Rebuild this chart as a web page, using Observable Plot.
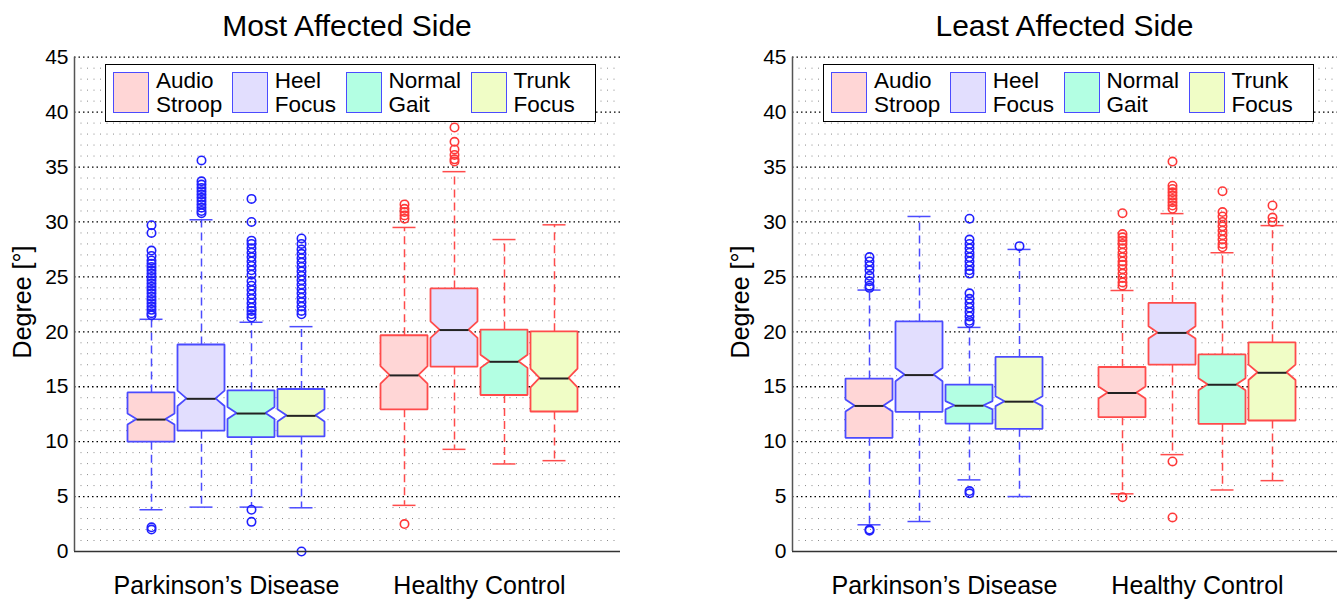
<!DOCTYPE html>
<html><head><meta charset="utf-8">
<script src="https://cdn.jsdelivr.net/npm/d3@7"></script>
<script src="https://cdn.jsdelivr.net/npm/@observablehq/plot@0.6"></script>
<style>
body{margin:0;background:#fff;font-family:"Liberation Sans",Arial,Helvetica,sans-serif;}
#wrap{position:relative;width:1342px;height:601px;overflow:hidden;background:#fff}
.panel{position:absolute;top:0;height:601px}
.panel svg{position:absolute;top:40px;left:0}
.title{position:absolute;top:9px;text-align:center;font-size:30px;color:#000;white-space:nowrap}
.ylab{position:absolute;left:22px;top:302px;transform:translate(-50%,-50%) rotate(-90deg);font-size:25px;white-space:nowrap;color:#000}
.legend{position:absolute;top:64px;height:56px;width:482px;border:1.5px solid #000;background:#fff;display:flex;align-items:flex-start;gap:9.5px;padding:0 0 0 7px;box-sizing:content-box}
.item{display:flex;align-items:flex-start;gap:7px}
.sw{width:34px;height:39px;border:1.5px solid #4b4bff;margin-top:7px}
.lt{font-size:22.5px;line-height:24px;padding-top:4px;color:#000}
</style></head>
<body><div id="wrap"></div>
<script>
// ---------- data ----------
const conditions = ["Audio Stroop", "Heel Focus", "Normal Gait", "Trunk Focus"];
const groups = ["Parkinson’s Disease", "Healthy Control"];
const yTicks = [0, 5, 10, 15, 20, 25, 30, 35, 40, 45];

// order: PD (Audio, Heel, Normal, Trunk), HC (Audio, Heel, Normal, Trunk)
const mostQ1     = [9.95, 10.95, 10.37, 10.43, 12.9, 16.79, 14.2, 12.7];
const mostMedian = [12.01, 13.9, 12.56, 12.35, 16.03, 20.16, 17.27, 15.75];
const mostQ3     = [14.44, 18.8, 14.63, 14.75, 19.64, 23.9, 20.16, 20.0];
const mostLow    = [3.8, 4.04, 4.04, 3.98, 4.2, 9.3, 7.97, 8.27];
const mostHigh   = [21.14, 30.2, 20.87, 20.47, 29.5, 34.58, 28.4, 29.74];
const mostNotch  = [0.5, 0.7, 0.55, 0.55, 0.8, 0.75, 0.6, 0.85];
const mostOutliers = [
  [29.7, 29.0, 27.4, 26.9, 26.5, 26.2, 25.9, 25.6, 25.3, 25.0, 24.7, 24.4, 24.1, 23.8, 23.5, 23.2, 22.9, 22.6, 22.3, 22.0, 21.7, 21.5, 2.2, 2.0],
  [35.6, 33.7, 33.4, 33.1, 32.8, 32.5, 32.2, 31.9, 31.6, 31.3, 31.0, 30.8],
  [32.1, 30.0, 28.3, 28.0, 27.6, 27.2, 26.8, 26.4, 26.0, 25.6, 25.2, 24.6, 24.2, 23.8, 23.4, 23.0, 22.6, 22.2, 21.9, 21.6, 21.3, 3.8, 2.7],
  [28.5, 28.0, 27.5, 27.1, 26.7, 26.3, 25.9, 25.5, 25.1, 24.7, 24.3, 23.9, 23.5, 23.1, 22.7, 22.3, 21.9, 21.6, 0.0],
  [31.6, 31.2, 30.9, 30.6, 30.3, 2.5],
  [38.6, 37.3, 36.6, 36.1, 35.7, 35.5],
  [],
  []
];

const leastQ1     = [10.3, 12.67, 11.6, 11.12, 12.18, 16.97, 11.58, 11.88];
const leastMedian = [13.25, 16.06, 13.27, 13.64, 14.43, 19.9, 15.18, 16.27];
const leastQ3     = [15.7, 20.9, 15.15, 17.67, 16.75, 22.58, 17.9, 19.0];
const leastLow    = [2.43, 2.73, 6.52, 5.0, 5.25, 8.82, 5.6, 6.45];
const leastHigh   = [23.8, 30.5, 20.4, 27.5, 23.76, 30.76, 27.2, 29.67];
const leastNotch  = [0.55, 0.6, 0.38, 0.45, 0.55, 0.55, 0.55, 0.7];
const leastOutliers = [
  [26.8, 26.4, 26.0, 25.6, 25.1, 24.6, 24.2, 24.0, 2.0, 1.9],
  [],
  [30.3, 28.4, 28.0, 27.6, 27.2, 26.8, 26.4, 26.0, 25.6, 25.3, 23.5, 23.0, 22.6, 22.2, 21.8, 21.4, 21.0, 20.8, 5.5, 5.3],
  [27.8],
  [30.8, 28.9, 28.6, 28.3, 28.0, 27.6, 27.2, 26.8, 26.4, 26.1, 25.7, 25.3, 24.9, 24.5, 24.2, 4.95],
  [35.5, 33.3, 33.0, 32.7, 32.4, 32.1, 31.8, 31.5, 31.2, 8.2, 3.1],
  [32.8, 30.9, 30.5, 30.0, 29.6, 29.2, 28.8, 28.4, 28.0, 27.7],
  [31.5, 30.4, 30.0]
];

// ---------- styles ----------
const condFill = ["#ffd6d6", "#e2defe", "#b3ffe3", "#f0fdc6"];
const groupStroke = ["#4b4bff", "#ff4b4b"];
const groupDot = ["#1f1fff", "#ff3838"];
const groupGap = 5.06;   // position offset of the second group
const halfW = 0.47, inset = 0.18, capHalf = 0.23;
const font = '"Liberation Sans", Arial, Helvetica, sans-serif';

function makePanel(cfg) {
  const boxes = [];
  groups.forEach((g, gi) => conditions.forEach((c, ci) => {
    const i = gi * conditions.length + ci;
    boxes.push({gi, ci, x: 1 + ci + gi * groupGap,
      q1: cfg.q1[i], med: cfg.med[i], q3: cfg.q3[i], lo: cfg.lo[i], hi: cfg.hi[i], n: cfg.notch[i],
      fill: condFill[ci], stroke: groupStroke[gi], dot: groupDot[gi]});
  }));
  const outline = boxes.flatMap((b, k) => [
    {k, y: b.q1, w: halfW}, {k, y: b.med - b.n, w: halfW}, {k, y: b.med, w: halfW - inset},
    {k, y: b.med + b.n, w: halfW}, {k, y: b.q3, w: halfW}
  ].map(p => ({...p, x1: b.x - p.w, x2: b.x + p.w, fill: b.fill, stroke: b.stroke})));
  const outs = boxes.flatMap((b, k) => cfg.out[k].map(v => ({x: b.x, y: v, stroke: b.dot})));
  const centers = groups.map((g, gi) => d3.mean(boxes.filter(b => b.gi === gi), b => b.x));

  const plot = Plot.plot({
    width: cfg.width, height: 561,
    marginTop: 16.7, marginBottom: 50, marginLeft: 74, marginRight: cfg.mr,
    x: {domain: cfg.xdom, axis: null},
    y: {domain: [0, 45], axis: null},
    color: {type: "identity"},
    style: {fontFamily: font, background: "transparent", color: "#000", overflow: "visible"},
    marks: [
      Plot.ruleY(d3.range(1, 45).filter(d => d % 5 !== 0), {stroke: "#8a8a8a", strokeWidth: 1, strokeDasharray: "1,5.5"}),
      Plot.ruleY(yTicks.filter(d => d > 0), {stroke: "#000", strokeWidth: 1.3, strokeDasharray: "1.5,3"}),
      Plot.ruleX(boxes, {x: "x", y1: "q3", y2: "hi", stroke: "stroke", strokeWidth: 1.5, strokeDasharray: "8,5"}),
      Plot.ruleX(boxes, {x: "x", y1: "q1", y2: "lo", stroke: "stroke", strokeWidth: 1.5, strokeDasharray: "8,5"}),
      Plot.ruleY(boxes, {y: "hi", x1: d => d.x - capHalf, x2: d => d.x + capHalf, stroke: "stroke", strokeWidth: 1.5}),
      Plot.ruleY(boxes, {y: "lo", x1: d => d.x - capHalf, x2: d => d.x + capHalf, stroke: "stroke", strokeWidth: 1.5}),
      Plot.areaX(outline, {z: "k", y: "y", x1: "x1", x2: "x2", fill: "fill", stroke: "stroke", strokeWidth: 1.8, fillOpacity: 1, strokeLinejoin: "miter"}),
      Plot.ruleY(boxes, {y: "med", x1: d => d.x - halfW + inset, x2: d => d.x + halfW - inset, stroke: "#222", strokeWidth: 2}),
      Plot.dot(outs, {x: "x", y: "y", r: 4.2, stroke: "stroke", strokeWidth: 1.6, fill: "none"}),
      Plot.ruleY([0], {stroke: "#333", strokeWidth: 1.5}),
      Plot.ruleX([cfg.xdom[0]], {stroke: "#555", strokeWidth: 1.5}),
      Plot.axisY({ticks: yTicks, tickSize: 0, tickPadding: 6, fontSize: 21, label: null}),
      Plot.axisX({ticks: centers, tickFormat: (d, i) => groups[i], tickSize: 0, tickPadding: 25, fontSize: 25, label: null})
    ]
  });

  const panel = document.createElement("div");
  panel.className = "panel";
  panel.style.left = cfg.left + "px";
  panel.style.width = cfg.width + "px";
  panel.appendChild(plot);

  const t = document.createElement("div");
  t.className = "title";
  t.textContent = cfg.title;
  t.style.left = "74px";
  t.style.width = (cfg.width - 74 - cfg.mr) + "px";
  panel.appendChild(t);

  const yl = document.createElement("div");
  yl.className = "ylab";
  yl.textContent = "Degree [°]";
  panel.appendChild(yl);

  const lg = document.createElement("div");
  lg.className = "legend";
  lg.style.left = (74 + 31) + "px";
  conditions.forEach((c, ci) => {
    const it = document.createElement("div");
    it.className = "item";
    const sw = document.createElement("div");
    sw.className = "sw";
    sw.style.background = condFill[ci];
    const lt = document.createElement("div");
    lt.className = "lt";
    lt.innerHTML = c.split(" ").join("<br>");
    it.appendChild(sw); it.appendChild(lt);
    lg.appendChild(it);
  });
  panel.appendChild(lg);
  document.getElementById("wrap").appendChild(panel);
}

makePanel({title: "Most Affected Side", left: 0, width: 671, mr: 51, xdom: [-0.54, 10.38],
  q1: mostQ1, med: mostMedian, q3: mostQ3, lo: mostLow, hi: mostHigh, notch: mostNotch, out: mostOutliers});
makePanel({title: "Least Affected Side", left: 718, width: 624, mr: 5, xdom: [-0.54, 10.36],
  q1: leastQ1, med: leastMedian, q3: leastQ3, lo: leastLow, hi: leastHigh, notch: leastNotch, out: leastOutliers});
</script></body></html>
